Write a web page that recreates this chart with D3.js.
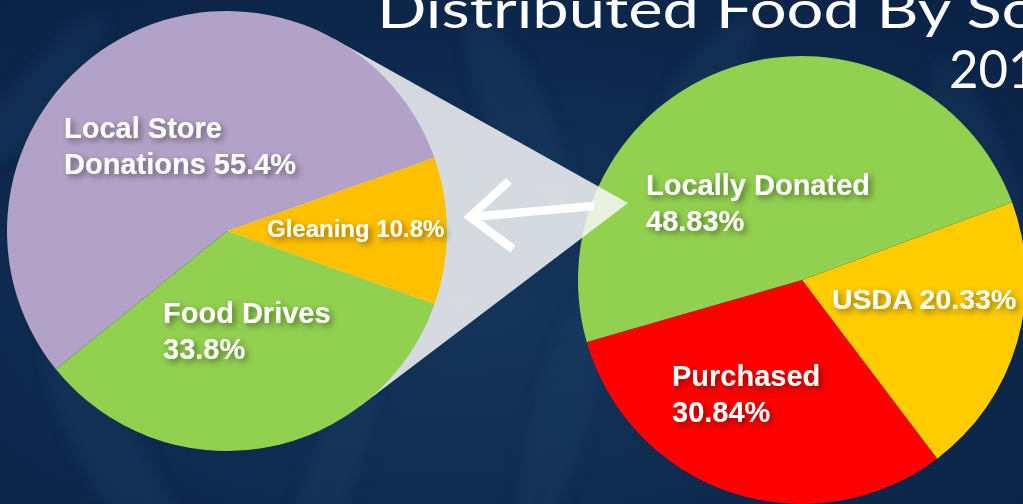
<!DOCTYPE html>
<html>
<head>
<meta charset="utf-8">
<script src="https://cdn.jsdelivr.net/npm/d3@7/dist/d3.min.js"></script>
<style>
  html, body { margin: 0; padding: 0; background: #0f2a4c; }
  svg { display: block; }
</style>
</head>
<body>
<svg class="chart" width="1023" height="504"></svg>
<script>
// data
var leftCategories = ["Gleaning", "Food Drives", "Local Store Donations"];
var leftValues = [10.8, 33.8, 55.4];
var leftLabels = [["Gleaning 10.8%"], ["Food Drives", "33.8%"], ["Local Store", "Donations 55.4%"]];
var rightCategories = ["USDA", "Purchased", "Locally Donated"];
var rightValues = [20.33, 30.84, 48.83];
var rightLabels = [["USDA 20.33%"], ["Purchased", "30.84%"], ["Locally Donated", "48.83%"]];
var titleLines = ["Distributed Food By Source", "2019"];

var w = 1023, h = 504;
var svg = d3.select("svg.chart");
var defs = svg.append("defs");

// background
var bg = defs.append("radialGradient").attr("id", "bg")
    .attr("cx", "45%").attr("cy", "60%").attr("r", "75%");
bg.append("stop").attr("offset", "0%").attr("stop-color", "#15355a");
bg.append("stop").attr("offset", "100%").attr("stop-color", "#0a2246");
svg.append("rect").attr("width", w).attr("height", h).attr("fill", "url(#bg)");

var blur = defs.append("filter").attr("id", "soft");
blur.append("feGaussianBlur").attr("stdDeviation", 8);
var leaves = [[120, 470, 30, 140, -30], [330, 480, 25, 120, 20], [520, 120, 30, 110, -25],
    [560, 420, 28, 130, 15], [700, 90, 25, 90, 35], [980, 170, 30, 120, -20], [40, 90, 25, 100, 40]];
svg.append("g").attr("filter", "url(#soft)")
    .selectAll("ellipse").data(leaves).enter().append("ellipse")
    .attr("cx", function(d){ return d[0]; })
    .attr("cy", function(d){ return d[1]; })
    .attr("rx", function(d){ return d[2]; })
    .attr("ry", function(d){ return d[3]; })
    .attr("transform", function(d){ return "rotate(" + d[4] + "," + d[0] + "," + d[1] + ")"; })
    .attr("fill", "#3a5d7e").attr("opacity", 0.14);

// title (wide rounded face in the original, so stretch it)
var title = svg.append("g")
    .attr("font-family", "Lato, 'Open Sans', sans-serif")
    .attr("font-size", 52).attr("fill", "#ffffff");
title.append("text").attr("x", 377).attr("y", 28)
    .attr("textLength", 785).attr("lengthAdjust", "spacingAndGlyphs")
    .text(titleLines[0]);
title.append("text").attr("x", 949).attr("y", 88)
    .attr("textLength", 118).attr("lengthAdjust", "spacingAndGlyphs")
    .text(titleLines[1]);

// shadow for labels
var sh = defs.append("filter").attr("id", "shadow")
    .attr("x", "-20%").attr("y", "-40%").attr("width", "140%").attr("height", "180%");
sh.append("feDropShadow").attr("dx", 3).attr("dy", 3).attr("stdDeviation", 3)
    .attr("flood-color", "#000").attr("flood-opacity", 0.45);

var left = {cx: 227, cy: 231, r: 220, start: 70.5};
var right = {cx: 802, cy: 280, r: 224, start: 69.7};
var leftColors = d3.scaleOrdinal().domain(leftCategories).range(["#ffc000", "#92d050", "#b3a2c7"]);
var rightColors = d3.scaleOrdinal().domain(rightCategories).range(["#ffcc00", "#ff0000", "#92d050"]);

var drawPie = function(g, cfg, cats, vals, color){
    var rad = cfg.start * Math.PI / 180;
    var pie = d3.pie().sort(null).startAngle(rad).endAngle(rad + 2 * Math.PI);
    var arc = d3.arc().innerRadius(0).outerRadius(cfg.r);
    var data = cats.map(function(c, i){ return {cat: c, value: vals[i]}; });
    g.attr("transform", "translate(" + cfg.cx + "," + cfg.cy + ")")
        .selectAll("path").data(pie.value(function(d){ return d.value; })(data))
        .enter().append("path")
        .attr("d", arc)
        .attr("fill", function(d){ return color(d.data.cat); });
};

// right pie first, then zoom wedge, then left pie
var gRight = svg.append("g");
drawPie(gRight, right, rightCategories, rightValues, rightColors);

// zoom wedge: tangents from apex to left pie
var apex = [628, 203];
var dx = left.cx - apex[0], dy = left.cy - apex[1];
var dist = Math.sqrt(dx * dx + dy * dy);
var base = Math.atan2(dy, dx), half = Math.asin(left.r / dist);
var tl = Math.sqrt(dist * dist - left.r * left.r);
var t1 = [apex[0] + tl * Math.cos(base + half), apex[1] + tl * Math.sin(base + half)];
var t2 = [apex[0] + tl * Math.cos(base - half), apex[1] + tl * Math.sin(base - half)];
svg.append("path")
    .attr("d", d3.line()([apex, t1, [left.cx, left.cy], t2]) + "Z")
    .attr("fill", "#f8f8f8").attr("fill-opacity", 0.85);

var gLeft = svg.append("g");
drawPie(gLeft, left, leftCategories, leftValues, leftColors);

// arrow
svg.append("path")
    .attr("d", "M594,206 L470,217 M509,181 L470,217 L513,249")
    .attr("fill", "none").attr("stroke", "#ffffff").attr("stroke-width", 8.5)
    .attr("stroke-linejoin", "miter");

// labels
var labelPos = {
    left: [[40, 6, 24], [-64, 92, 29], [-163, -93, 29]],
    right: [[30, 29, 28.5], [-130, 106, 29], [-156, -85, 29]]
};
var drawLabels = function(cfg, labels, pos){
    var g = svg.append("g")
        .attr("font-family", "'Liberation Sans', Arial, sans-serif")
        .attr("font-weight", "bold").attr("fill", "#ffffff")
        .attr("filter", "url(#shadow)");
    labels.forEach(function(lines, i){
        var p = pos[i];
        var t = g.append("text")
            .attr("x", cfg.cx + p[0]).attr("y", cfg.cy + p[1])
            .attr("font-size", p[2]);
        lines.forEach(function(s, j){
            t.append("tspan").attr("x", cfg.cx + p[0])
                .attr("dy", j === 0 ? 0 : 36).text(s);
        });
    });
};
drawLabels(left, leftLabels, labelPos.left);
drawLabels(right, rightLabels, labelPos.right);
</script>
</body>
</html>
